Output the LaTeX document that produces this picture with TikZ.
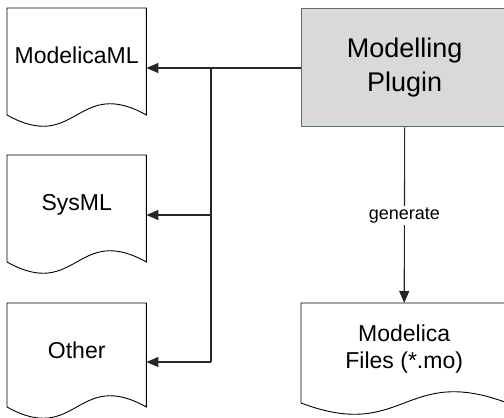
\documentclass[tikz,border=0pt]{standalone}
\usepackage{fontspec}
\setmainfont{Liberation Sans}
\usetikzlibrary{arrows.meta,calc}
\definecolor{plugfill}{RGB}{217,217,217}
\definecolor{plugborder}{RGB}{92,112,92}
\tikzset{
  docbox/.style={inner sep=0pt, minimum width=139pt, minimum height=98pt, anchor=north west,
    text height=17pt, text depth=5pt, font=\fontsize{23}{26.6}\selectfont},
  bigdoc/.style={inner sep=0pt, minimum width=206pt, minimum height=92pt, anchor=north west,
    align=center, font=\fontsize{23}{26.6}\selectfont},
  plugbox/.style={draw=plugborder, fill=plugfill, line width=1.4pt, inner sep=0pt,
    minimum width=206pt, minimum height=118.5pt, anchor=north west, align=center,
    font=\fontsize{27}{34}\selectfont},
  docline/.style={draw=black, line width=0.9pt},
  conn/.style={draw=black!85, line width=1.1pt},
  arr/.style={conn, -{Triangle[length=12pt,width=10pt]}},
  lbl/.style={fill=white, inner sep=2pt, font=\fontsize{18}{21}\selectfont}
}
\newcommand\docoutline[2]{%
  \draw[docline] ($(#1.north west)+(0,#2)$) -- (#1.north west) -- (#1.north east)
    -- ($(#1.north east)+(0,#2)$)
    .. controls ($(#1.north)+(0,#2-39)$) and ($(#1.north)+(0,#2+39)$) .. ($(#1.north west)+(0,#2)$);
}
\begin{document}
\begin{tikzpicture}[x=1pt,y=-1pt]
  \useasboundingbox (0,0) rectangle (504,418);
  \clip (0,0) rectangle (504,418);
  \node[docbox] (mml) at (7,8) {ModelicaML};
  \node[docbox] (sys) at (7,155) {SysML};
  \node[docbox] (oth) at (7,303) {Other};
  \node[bigdoc] (mf) at (301,303) {Modelica\\Files (*.mo)};
  \node[plugbox] (plug) at (301,7.5) {Modelling\\Plugin};
  \docoutline{mml}{107}
  \docoutline{sys}{107}
  \docoutline{oth}{104}
  \docoutline{mf}{100}
  \coordinate (j1) at (211,68);
  \coordinate (j2) at (211,215);
  \coordinate (j3) at (211,362);
  \draw[conn] (plug.west |- j1) -- (j1);
  \draw[conn] (j1) -- (j3);
  \draw[arr] (j1) -- (j1 -| mml.east);
  \draw[arr] (j2) -- (j2 -| sys.east);
  \draw[arr] (j3) -- (j3 -| oth.east);
  \draw[arr] (plug.south) -- node[lbl] (gen) {generate} (mf.north);
\end{tikzpicture}
\end{document}
